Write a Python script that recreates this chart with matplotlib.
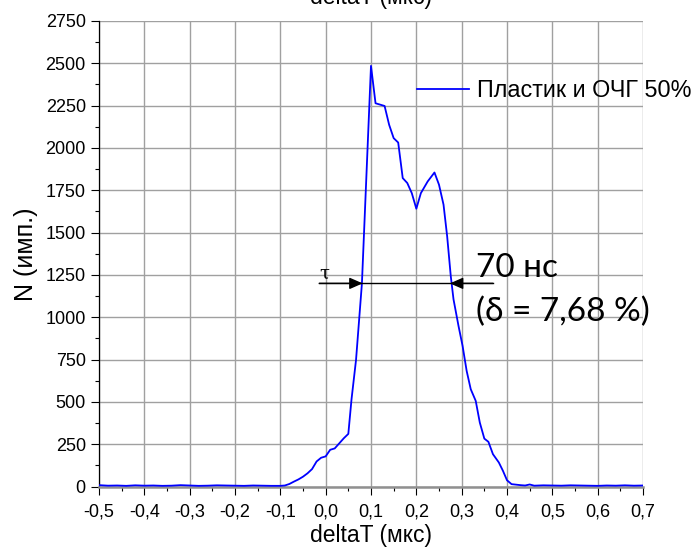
import matplotlib
matplotlib.use("Agg")
import matplotlib.pyplot as plt
from matplotlib.ticker import MultipleLocator, FuncFormatter

plt.rcParams['font.family'] = ['Liberation Sans', 'DejaVu Sans']

# данные
dt = [-0.50, -0.48, -0.46, -0.44, -0.42, -0.40, -0.38, -0.36, -0.34, -0.32,
      -0.30, -0.28, -0.26, -0.24, -0.22, -0.20, -0.18, -0.16, -0.14, -0.12,
      -0.10, -0.09, -0.08, -0.07, -0.06, -0.05, -0.04, -0.03, -0.02, -0.01,
      0.00, 0.01, 0.02, 0.03, 0.04, 0.05, 0.057, 0.067, 0.08, 0.10,
      0.11, 0.13, 0.14, 0.15, 0.16, 0.17, 0.18, 0.19, 0.20, 0.21,
      0.225, 0.24, 0.25, 0.26, 0.268, 0.276, 0.282, 0.293, 0.302, 0.311,
      0.32, 0.331, 0.34, 0.35, 0.359, 0.369, 0.382, 0.391, 0.40, 0.41,
      0.43, 0.44, 0.45, 0.46, 0.48, 0.50, 0.52, 0.54, 0.56, 0.58,
      0.60, 0.62, 0.64, 0.66, 0.68, 0.70]
counts = [8, 5, 6, 4, 7, 5, 6, 4, 5, 8,
          6, 4, 5, 7, 6, 5, 4, 6, 5, 4,
          4, 6, 15, 29, 42, 58, 78, 103, 148, 170,
          178, 217, 225, 255, 285, 311, 514, 748, 1200, 2485,
          2264, 2248, 2137, 2058, 2032, 1822, 1793, 1733, 1641, 1733,
          1802, 1855, 1783, 1665, 1478, 1242, 1106, 949, 831, 683,
          575, 506, 378, 283, 264, 191, 142, 93, 37, 14,
          8, 6, 12, 5, 7, 6, 5, 7, 6, 5,
          4, 6, 5, 7, 5, 6]

series_name = "Пластик и ОЧГ 50%"
width_text = "70 нс"
delta_text = "(δ = 7,68 %)"

# полуширина: стрелки
fwhm_level = 1200
fwhm_left, fwhm_right = 0.0817, 0.274
bar_left, bar_right = -0.014, 0.369

fig = plt.figure(figsize=(6.95, 5.48), dpi=100)
ax = fig.add_axes([0.1424, 0.1122, 0.7828, 0.8495])

ax.plot(dt, counts, color='#0000ff', lw=1.3, label=series_name, zorder=3)

ax.set_xlim(-0.5, 0.7)
ax.set_ylim(0, 2750)
ax.xaxis.set_major_locator(MultipleLocator(0.1))
ax.xaxis.set_minor_locator(MultipleLocator(0.05))
ax.yaxis.set_major_locator(MultipleLocator(250))
ax.yaxis.set_minor_locator(MultipleLocator(125))
ax.xaxis.set_major_formatter(FuncFormatter(lambda v, p: f"{v:.1f}".replace('.', ',').replace('-0,0', '0,0')))
ax.yaxis.set_major_formatter(FuncFormatter(lambda v, p: f"{v:.0f}"))
ax.tick_params(which='major', direction='out', length=6, width=0.8, labelsize=13, colors='black')
ax.tick_params(axis='x', which='major', pad=6)
ax.tick_params(which='minor', direction='out', length=3, width=0.8)

ax.grid(True, which='major', color='#a0a0a0', lw=1.0)
ax.set_axisbelow(True)
ax.spines['top'].set_visible(False)
ax.spines['right'].set_visible(False)
ax.spines['bottom'].set_color('#909090')
ax.spines['bottom'].set_linewidth(1.8)
ax.spines['left'].set_linewidth(0.9)

ax.set_xlabel("deltaT (мкс)", fontsize=16.5, labelpad=3)
ax.set_ylabel("N (имп.)", fontsize=18, labelpad=5)

# обрезанная верхняя подпись
fig.text(371 / 695, 1 - 4 / 548, "deltaT (мкс)", fontsize=16.5, ha='center', va='baseline')

ax.legend(loc='center left', bbox_to_anchor=(0.584, 0.850), frameon=False,
          fontsize=16.8, handlelength=2.25, handletextpad=0.33,
          borderpad=0, borderaxespad=0)

# стрелки ширины
ax.plot([bar_left, bar_right], [fwhm_level, fwhm_level], color='black', lw=1.0, zorder=4)
for start, tip in [(bar_left, fwhm_left), (bar_right, fwhm_right)]:
    ax.annotate("", xy=(tip, fwhm_level), xytext=(start, fwhm_level),
                arrowprops=dict(arrowstyle='-|>,head_length=0.8,head_width=0.35',
                                color='black', lw=1.0, shrinkA=0, shrinkB=0,
                                mutation_scale=10), zorder=4)
ax.text(-0.003, 1255, "τ", fontsize=13, family=['DejaVu Serif'], ha='center', va='center')
ax.text(0.332, 1240, width_text, fontsize=24, family=['Lato', 'DejaVu Sans'], va='baseline')
ax.text(0.332, 974, delta_text, fontsize=24, family=['Lato', 'DejaVu Sans'], va='baseline')

fig.savefig("out.png", dpi=100)
